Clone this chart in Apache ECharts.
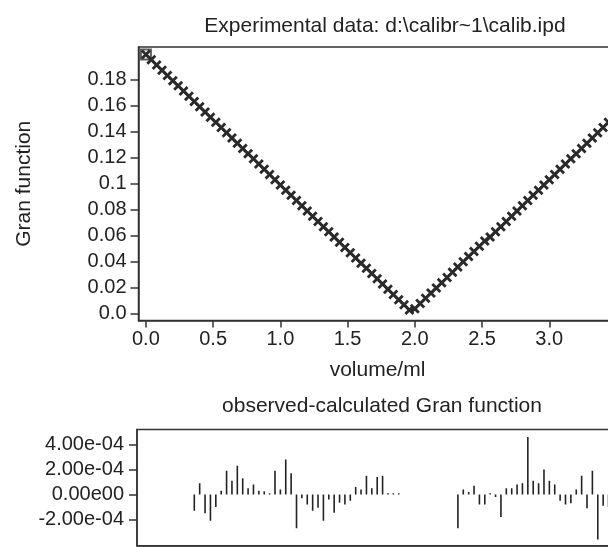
<!DOCTYPE html>
<html>
<head>
<meta charset="utf-8">
<script src="https://cdn.jsdelivr.net/npm/echarts@6/dist/echarts.min.js"></script>
<style>
html, body { margin: 0; padding: 0; background: #fff; }
#main { width: 608px; height: 547px; }
</style>
</head>
<body>
<div id="main"></div>
<script>
// 体积 (ml) 与 Gran 函数值
var volume = [0.00, 0.04, 0.08, 0.12, 0.16, 0.20, 0.24, 0.28, 0.32, 0.36,
	0.40, 0.44, 0.48, 0.52, 0.56, 0.60, 0.64, 0.68, 0.72, 0.76,
	0.80, 0.84, 0.88, 0.92, 0.96, 1.00, 1.04, 1.08, 1.12, 1.16,
	1.20, 1.24, 1.28, 1.32, 1.36, 1.40, 1.44, 1.48, 1.52, 1.56,
	1.60, 1.64, 1.68, 1.72, 1.76, 1.80, 1.84, 1.88, 1.92, 1.96,
	2.00, 2.04, 2.08, 2.12, 2.16, 2.20, 2.24, 2.28, 2.32, 2.36,
	2.40, 2.44, 2.48, 2.52, 2.56, 2.60, 2.64, 2.68, 2.72, 2.76,
	2.80, 2.84, 2.88, 2.92, 2.96, 3.00, 3.04, 3.08, 3.12, 3.16,
	3.20, 3.24, 3.28, 3.32, 3.36, 3.40, 3.44, 3.48];
var gran = [0.199, 0.195, 0.191, 0.187, 0.183, 0.179, 0.175, 0.171, 0.167, 0.163,
	0.159, 0.155, 0.151, 0.147, 0.143, 0.139, 0.135, 0.131, 0.127, 0.123,
	0.119, 0.115, 0.111, 0.107, 0.103, 0.099, 0.095, 0.091, 0.087, 0.083,
	0.079, 0.075, 0.071, 0.067, 0.063, 0.059, 0.055, 0.051, 0.047, 0.043,
	0.039, 0.035, 0.031, 0.027, 0.023, 0.019, 0.015, 0.011, 0.007, 0.003,
	0.004, 0.008, 0.012, 0.016, 0.020, 0.024, 0.028, 0.032, 0.036, 0.040,
	0.044, 0.048, 0.052, 0.056, 0.059, 0.063, 0.067, 0.071, 0.075, 0.079,
	0.083, 0.087, 0.091, 0.095, 0.099, 0.103, 0.107, 0.111, 0.115, 0.119,
	0.123, 0.127, 0.131, 0.135, 0.139, 0.143, 0.147, 0.151];
var xTicks = [0, 0.5, 1.0, 1.5, 2.0, 2.5, 3.0, 3.5];
var xLabels = [0, 0.5, 1.0, 1.5, 2.0, 2.5, 3.0];
var yTicks = [0, 0.02, 0.04, 0.06, 0.08, 0.1, 0.12, 0.14, 0.16, 0.18];

// 残差 observed-calculated (终点附近的点未参与拟合)
var residVolume = [0.36, 0.40, 0.44, 0.48, 0.52, 0.56, 0.60, 0.64, 0.68, 0.72,
	0.76, 0.80, 0.84, 0.88, 0.92, 0.96, 1.00, 1.04, 1.08, 1.12,
	1.16, 1.20, 1.24, 1.28, 1.32, 1.36, 1.40, 1.44, 1.48, 1.52,
	1.56, 1.60, 1.64, 1.68, 1.72, 1.76, 1.80, 1.84, 1.88,
	2.32, 2.36, 2.40, 2.44, 2.48, 2.52, 2.56, 2.60, 2.64, 2.68,
	2.72, 2.76, 2.80, 2.84, 2.88, 2.92, 2.96, 3.00, 3.04, 3.08,
	3.12, 3.16, 3.20, 3.24, 3.28, 3.32, 3.36, 3.40, 3.44];
var residValue = [-1.3e-4, 0.9e-4, -1.5e-4, -2.1e-4, -1.0e-4, 0.3e-4, 1.9e-4, 1.1e-4, 2.3e-4, 1.3e-4,
	0.5e-4, 0.8e-4, 0.3e-4, 0.25e-4, 0.1e-4, 1.9e-4, 0.4e-4, 2.8e-4, 1.7e-4, -2.7e-4,
	-0.3e-4, -0.8e-4, -1.3e-4, -1.05e-4, -2.1e-4, -0.4e-4, -1.45e-4, -0.65e-4, -0.8e-4, -0.5e-4,
	0.6e-4, 0.4e-4, 1.5e-4, 0.5e-4, 1.4e-4, 1.5e-4, 0.1e-4, 0.1e-4, 0.1e-4,
	-2.7e-4, 0.4e-4, 0.2e-4, 0.7e-4, -0.8e-4, -0.8e-4, 0.1e-4, -0.2e-4, -1.8e-4, 0.5e-4,
	0.5e-4, 0.8e-4, 0.9e-4, 4.6e-4, 1.1e-4, 0.9e-4, 2.0e-4, 1.1e-4, 0.8e-4, -0.5e-4,
	-0.8e-4, -0.7e-4, 0.4e-4, 1.5e-4, -1.1e-4, 1.9e-4, -3.6e-4, -0.9e-4, -1.0e-4];
var residTicks = [-2e-4, 0, 2e-4, 4e-4];

var ink = '#222';
var font = 'Liberation Sans';
var crossPath = 'path://M0,2L2,0L5,3L8,0L10,2L7,5L10,8L8,10L5,7L2,10L0,8L3,5Z';

var granData = [];
for (var i = 0; i < volume.length; i++) {
	granData.push([volume[i], gran[i]]);
}
var residData = [];
for (var j = 0; j < residVolume.length; j++) {
	residData.push([residVolume[j], residValue[j]]);
}

function granLabel(v) {
	if (Math.abs(v) < 1e-9) return '0.0';
	if (Math.abs(v - 0.1) < 1e-9) return '0.1';
	return v.toFixed(2);
}
function expLabel(v) {
	if (Math.abs(v) < 1e-12) return '0.00e00';
	var e = Math.floor(Math.log10(Math.abs(v)));
	var m = v / Math.pow(10, e);
	return m.toFixed(2) + 'e' + (e < 0 ? '-' : '+') + String(Math.abs(e)).padStart(2, '0');
}

var myChart = echarts.init(document.getElementById('main'));
var option = {
	animation: false,
	backgroundColor: '#fff',
	textStyle: { fontFamily: font, color: ink },
	title: [{
		text: 'Experimental data: d:\\calibr~1\\calib.ipd',
		left: 380, top: 11, textAlign: 'center',
		textStyle: { fontFamily: font, fontSize: 21, fontWeight: 'normal', color: ink }
	}, {
		text: 'observed-calculated Gran function',
		left: 377, top: 391, textAlign: 'center',
		textStyle: { fontFamily: font, fontSize: 21, fontWeight: 'normal', color: ink }
	}],
	grid: [{
		left: 138.5, top: 47, width: 478, height: 273.5,
		outerBoundsMode: 'none',
		show: true, borderColor: '#333', borderWidth: 1.5
	}, {
		left: 137, top: 429.5, width: 479.6, height: 116.25,
		outerBoundsMode: 'none',
		show: true, borderColor: '#333', borderWidth: 1.5
	}],
	xAxis: [{
		gridIndex: 0, type: 'value', min: -0.055, max: 3.5,
		name: 'volume/ml', nameLocation: 'middle', nameGap: 39,
		nameTextStyle: { fontFamily: font, fontSize: 21, color: ink },
		splitLine: { show: false },
		axisLine: { show: true, onZero: false, lineStyle: { color: '#333', width: 1.5 } },
		axisTick: { show: true, length: 7, customValues: xTicks, lineStyle: { color: '#333', width: 1.5 } },
		axisLabel: { margin: 9, fontSize: 20, color: ink, customValues: xLabels,
			formatter: function (v) { return v.toFixed(1); } }
	}, {
		gridIndex: 1, type: 'value', min: -0.066, max: 3.5,
		splitLine: { show: false },
		axisLine: { show: true, onZero: false, lineStyle: { color: '#333', width: 1.5 } },
		axisTick: { show: false },
		axisLabel: { show: false }
	}],
	yAxis: [{
		gridIndex: 0, type: 'value', min: -0.005, max: 0.2048,
		name: 'Gran function', nameLocation: 'middle', nameGap: 104, nameRotate: 90,
		nameTextStyle: { fontFamily: font, fontSize: 21, color: ink },
		splitLine: { show: false },
		axisLine: { show: true, onZero: false, lineStyle: { color: '#333', width: 1.5 } },
		axisTick: { show: true, length: 8, customValues: yTicks, lineStyle: { color: '#333', width: 1.5 } },
		axisLabel: { margin: 12, fontSize: 20, color: ink, customValues: yTicks, formatter: granLabel }
	}, {
		gridIndex: 1, type: 'value', min: -4.1e-4, max: 5.2e-4,
		splitLine: { show: false },
		axisLine: { show: true, onZero: false, lineStyle: { color: '#333', width: 1.5 } },
		axisTick: { show: true, length: 8, customValues: residTicks, lineStyle: { color: '#333', width: 1.5 } },
		axisLabel: { margin: 13, fontSize: 20, color: ink, customValues: residTicks, formatter: expLabel }
	}],
	series: [{
		name: 'Gran',
		type: 'line',
		xAxisIndex: 0, yAxisIndex: 0,
		data: granData,
		showAllSymbol: true,
		symbol: crossPath,
		symbolSize: 10,
		itemStyle: { color: '#2a2a2a' },
		lineStyle: { color: '#111', width: 1.5 }
	}, {
		name: 'start',
		type: 'scatter',
		xAxisIndex: 0, yAxisIndex: 0,
		data: [granData[0]],
		symbol: 'emptyRect',
		symbolSize: 10,
		itemStyle: { color: '#333', borderWidth: 1.2 }
	}, {
		name: 'residual',
		type: 'bar',
		xAxisIndex: 1, yAxisIndex: 1,
		data: residData,
		barWidth: 1.6,
		itemStyle: { color: '#222' }
	}]
};
myChart.setOption(option, true);
</script>
</body>
</html>
